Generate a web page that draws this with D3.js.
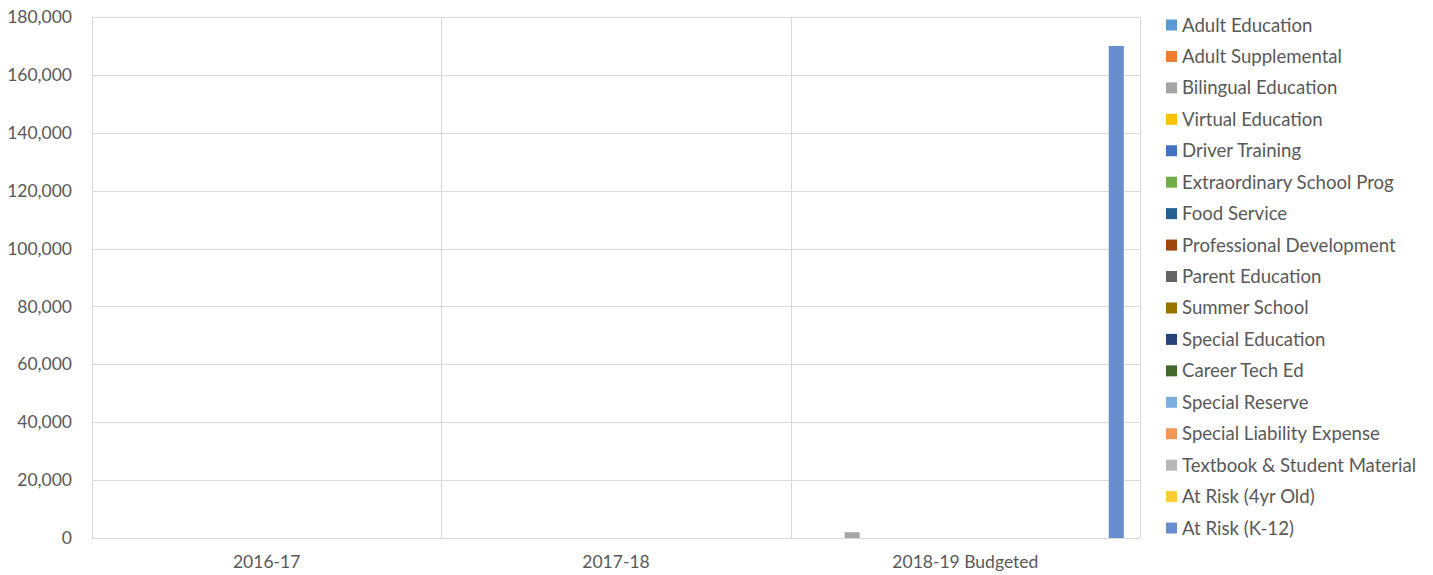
<!DOCTYPE html>
<head>
    <script src="https://d3js.org/d3.v7.min.js"></script>
    <style>
body {
  margin: 0;
  background: #fff;
  font-family: "Lato", sans-serif;
}
</style>
</head>
<body>
    <svg></svg>
</body>

<script>
    // categories on the x axis
    var years = ["2016-17", "2017-18", "2018-19 Budgeted"];

    var programs = ["Adult Education", "Adult Supplemental", "Bilingual Education", "Virtual Education",
        "Driver Training", "Extraordinary School Prog", "Food Service", "Professional Development",
        "Parent Education", "Summer School", "Special Education", "Career Tech Ed", "Special Reserve",
        "Special Liability Expense", "Textbook & Student Material", "At Risk (4yr Old)", "At Risk (K-12)"];

    var colors = ["#5b9bd5", "#ed7d31", "#a5a5a5", "#ffc000", "#4472c4", "#70ad47", "#255e91", "#9e480e",
        "#636363", "#997300", "#264478", "#43682b", "#7cafdd", "#f1975a", "#b7b7b7", "#ffcd33", "#698ed0"];

    // one value per year, per program
    var adultEducation = [0, 0, 0];
    var adultSupplemental = [0, 0, 0];
    var bilingualEducation = [0, 0, 2000];
    var virtualEducation = [0, 0, 0];
    var driverTraining = [0, 0, 0];
    var extraordinarySchool = [0, 0, 0];
    var foodService = [0, 0, 0];
    var professionalDev = [0, 0, 0];
    var parentEducation = [0, 0, 0];
    var summerSchool = [0, 0, 0];
    var specialEducation = [0, 0, 0];
    var careerTech = [0, 0, 0];
    var specialReserve = [0, 0, 0];
    var specialLiability = [0, 0, 0];
    var textbook = [0, 0, 0];
    var atRisk4yr = [0, 0, 0];
    var atRiskK12 = [0, 0, 170000];

    var yTicks = [0, 20000, 40000, 60000, 80000, 100000, 120000, 140000, 160000, 180000];

    var series = [adultEducation, adultSupplemental, bilingualEducation, virtualEducation, driverTraining,
        extraordinarySchool, foodService, professionalDev, parentEducation, summerSchool, specialEducation,
        careerTech, specialReserve, specialLiability, textbook, atRisk4yr, atRiskK12];

    var width = 1433;
    var height = 575;
    var margin = {left: 92, right: 293, top: 17, bottom: 37};
    var textColor = "#595959";
    var gridColor = "#d9d9d9";
    var fontSize = "17.5px";

    var svg = d3.select("svg")
        .attr("width", width)
        .attr("height", height);

    var x = d3.scaleBand()
        .domain(years)
        .range([margin.left, width - margin.right]);

    var x1 = d3.scaleBand()
        .domain(programs)
        .range([0, x.bandwidth()])
        .paddingInner(0.205)
        .paddingOuter(0.86);

    var y = d3.scaleLinear()
        .domain([0, 180000])
        .range([height - margin.bottom, margin.top]);

    // horizontal gridlines
    svg.append("g")
        .selectAll("line")
        .data(yTicks)
        .enter().append("line")
        .attr("x1", margin.left)
        .attr("x2", width - margin.right)
        .attr("y1", function (d) { return Math.round(y(d)) + 0.5; })
        .attr("y2", function (d) { return Math.round(y(d)) + 0.5; })
        .style("stroke", gridColor)
        .style("stroke-width", 1);

    // vertical dividers between categories, plus the plot edges
    var dividers = years.map(function (d) { return x(d); }).concat([x(years[years.length - 1]) + x.bandwidth()]);
    svg.append("g")
        .selectAll("line")
        .data(dividers)
        .enter().append("line")
        .attr("x1", function (d) { return Math.round(d) + 0.5; })
        .attr("x2", function (d) { return Math.round(d) + 0.5; })
        .attr("y1", margin.top)
        .attr("y2", height - margin.bottom)
        .style("stroke", gridColor)
        .style("stroke-width", 1);

    // bars
    var groups = svg.append("g")
        .selectAll("g")
        .data(years)
        .enter().append("g")
        .attr("transform", function (d) { return "translate(" + x(d) + ",0)"; });

    groups.selectAll("rect")
        .data(function (d, i) {
            return programs.map(function (p, j) { return {program: p, value: series[j][i], color: colors[j]}; });
        })
        .enter().append("rect")
        .attr("x", function (d) { return x1(d.program); })
        .attr("width", x1.bandwidth())
        .attr("y", function (d) { return y(d.value); })
        .attr("height", function (d) { return y(0) - y(d.value); })
        .style("fill", function (d) { return d.color; });

    // y axis labels
    var yAxis = svg.append("g")
        .attr("transform", "translate(" + (margin.left - 20) + ",0)")
        .call(d3.axisLeft(y).tickValues(yTicks).tickSize(0).tickPadding(0).tickFormat(d3.format(",")));
    yAxis.select(".domain").remove();
    yAxis.selectAll("text")
        .style("font-family", "Lato, sans-serif")
        .style("font-size", fontSize)
        .style("fill", textColor);

    // x axis labels
    var xAxis = svg.append("g")
        .attr("transform", "translate(0," + (height - margin.bottom) + ")")
        .call(d3.axisBottom(x).tickSize(0).tickPadding(18));
    xAxis.select(".domain").remove();
    xAxis.selectAll("text")
        .style("font-family", "Lato, sans-serif")
        .style("font-size", fontSize)
        .style("fill", textColor);

    // legend
    var legend = svg.append("g")
        .selectAll("g")
        .data(programs)
        .enter().append("g")
        .attr("transform", function (d, i) { return "translate(1166," + (25 + i * 31.44) + ")"; });

    legend.append("rect")
        .attr("x", 0)
        .attr("y", -5.5)
        .attr("width", 11)
        .attr("height", 11)
        .style("fill", function (d, i) { return colors[i]; });

    legend.append("text")
        .attr("x", 16)
        .attr("dy", "0.35em")
        .text(function (d) { return d; })
        .style("font-family", "Lato, sans-serif")
        .style("font-size", "18.6px")
        .style("fill", textColor);
</script>
